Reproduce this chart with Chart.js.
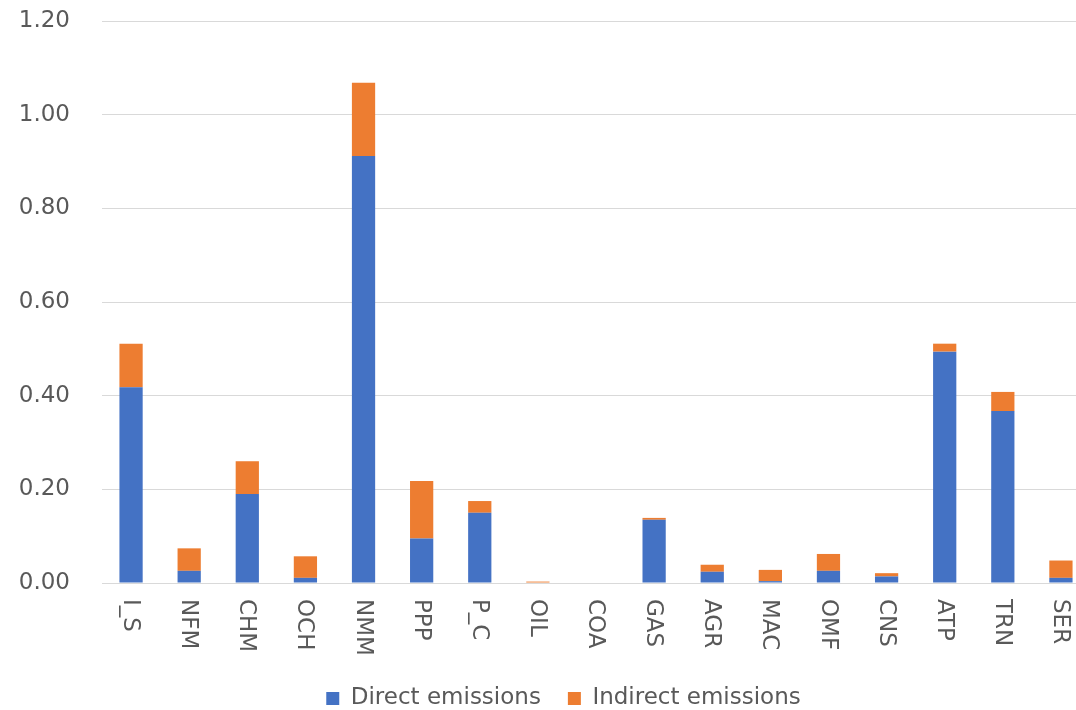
<!DOCTYPE html>
<html>
<head>
<meta charset="utf-8">
<script src="https://cdn.jsdelivr.net/npm/chart.js@4.4.1/dist/chart.umd.min.js"></script>
<style>
  html, body { margin: 0; padding: 0; background: #ffffff; overflow: hidden; }
  #wrap { width: 1127px; height: 710px; position: relative; }
</style>
</head>
<body>
<div id="wrap"><canvas id="c"></canvas></div>
<script>
const categories = ["I_S","NFM","CHM","OCH","NMM","PPP","P_C","OIL","COA","GAS","AGR","MAC","OMF","CNS","ATP","TRN","SER"];
const directEmissions   = [0.418, 0.026, 0.190, 0.011, 0.912, 0.095, 0.150, 0.000, 0.000, 0.135, 0.024, 0.004, 0.026, 0.014, 0.494, 0.367, 0.011];
const indirectEmissions = [0.093, 0.048, 0.070, 0.046, 0.156, 0.123, 0.025, 0.003, 0.000, 0.004, 0.015, 0.024, 0.036, 0.007, 0.017, 0.041, 0.037];
const yTicks = [0, 0.2, 0.4, 0.6, 0.8, 1.0, 1.2];

const FONT = "'DejaVu Sans', sans-serif";
const TEXT = "#595959";

const rotatedLabels = {
  id: 'rotatedLabels',
  afterDraw(chart) {
    const xs = chart.scales.x;
    const ctx = chart.ctx;
    ctx.save();
    ctx.fillStyle = TEXT;
    ctx.font = "23px " + FONT;
    ctx.textAlign = 'left';
    ctx.textBaseline = 'middle';
    categories.forEach((lab, i) => {
      const x = xs.getPixelForValue(i);
      ctx.save();
      ctx.translate(x - 1, chart.chartArea.bottom + 16);
      ctx.rotate(Math.PI / 2);
      ctx.fillText(lab, 0, 0);
      ctx.restore();
    });
    ctx.restore();
  }
};

new Chart(document.getElementById('c'), {
  type: 'bar',
  data: {
    labels: categories,
    datasets: [
      { label: 'Direct emissions', data: directEmissions, backgroundColor: '#4472C4',
        categoryPercentage: 1.0, barPercentage: 0.4 },
      { label: 'Indirect emissions', data: indirectEmissions, backgroundColor: '#ED7D31',
        categoryPercentage: 1.0, barPercentage: 0.4 }
    ]
  },
  options: {
    responsive: true,
    maintainAspectRatio: false,
    animation: false,
    layout: { padding: { top: 21, right: 0, bottom: -10, left: 0 } },
    plugins: {
      tooltip: { enabled: false },
      legend: {
        position: 'bottom',
        labels: {
          font: { family: FONT, size: 23 },
          color: TEXT,
          boxWidth: 13,
          boxHeight: 13,
          padding: 27
        }
      }
    },
    scales: {
      x: {
        stacked: true,
        grid: { display: false, drawTicks: false },
        border: { display: true, color: '#d9d9d9', width: 1 },
        ticks: { display: false },
        afterFit(s) { s.height = 77; s.paddingLeft = 0; s.paddingRight = 0; }
      },
      y: {
        stacked: true,
        min: 0,
        max: 1.2,
        afterBuildTicks(s) { s.ticks = yTicks.map(v => ({ value: v })); },
        grid: { color: '#d9d9d9', lineWidth: 1, drawTicks: false },
        border: { display: false },
        ticks: {
          padding: 32,
          color: TEXT,
          font: { family: FONT, size: 23 },
          callback: v => Number(v).toFixed(2)
        },
        afterFit(s) { s.width = 102; s.paddingTop = 0; s.paddingBottom = 0; }
      },
      yRight: {
        type: 'linear',
        position: 'right',
        display: true,
        grid: { display: false, drawTicks: false },
        border: { display: false },
        ticks: { display: false },
        afterFit(s) { s.width = 37; s.paddingTop = 0; s.paddingBottom = 0; }
      }
    }
  },
  plugins: [rotatedLabels]
});
</script>
</body>
</html>
